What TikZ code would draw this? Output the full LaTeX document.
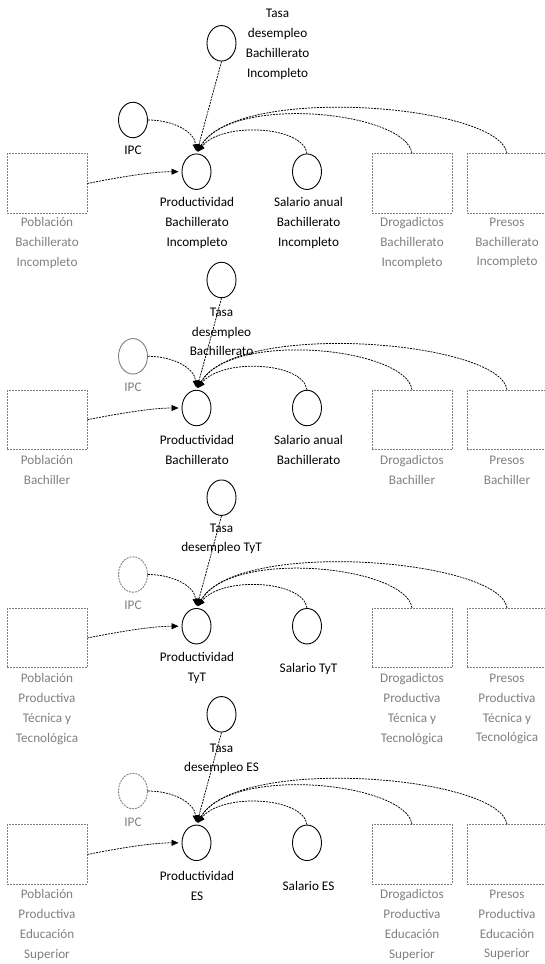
\documentclass[tikz,border=0pt]{standalone}
\usepackage{fontspec}
\setmainfont{Carlito}
\usetikzlibrary{arrows.meta,shapes.geometric}
\definecolor{muted}{HTML}{808080}
\tikzset{
  var/.style={ellipse, draw=black, line width=0.9pt, minimum width=29pt, minimum height=35.5pt, inner sep=0pt},
  auxvar/.style={var, draw=muted},
  auxdash/.style={var, draw=muted, dash pattern=on 2pt off 1pt},
  stock/.style={rectangle, draw=muted, line width=0.7pt, dash pattern=on 2pt off 1pt, minimum width=80pt, minimum height=59.5pt, inner sep=0pt},
  lbl/.style={font=\fontsize{13.2}{19.8}\selectfont, align=center, inner sep=0pt},
  glbl/.style={lbl, text=muted},
  link/.style={draw=black, line width=0.75pt, dash pattern=on 2pt off 1pt, -{Triangle[length=7pt,width=6pt]}},
  totop/.style={shorten >=2.2pt},
}
% Links shared by every sector: population, unemployment, CPI, wage,
% addicts and prisoners all feed the sector's productivity.
\newcommand\sectorlinks[1]{%
  \draw[link, shorten >=3pt] (pob#1.east) .. controls +(30,-6) and +(-30,0) .. (prod#1.west);
  \draw[link, totop] (tasa#1.south) -- (prod#1.north);
  \draw[link, totop] (ipc#1.east) .. controls +(25,0) and +(-2,-22) .. (prod#1.north);
  \draw[link, totop] (sal#1.north) .. controls +(-4,-28) and +(25,-32) .. (prod#1.north);
  \draw[link, totop] (drog#1.north) .. controls +(-6,-42) and +(35,-60) .. (prod#1.north);
  \draw[link, totop] (pres#1.north) .. controls +(-7,-49) and +(40,-70) .. (prod#1.north);
}
\begin{document}
\begin{tikzpicture}[x=1pt, y=-1pt]
\useasboundingbox (0,0) rectangle (544,964);

% ---------- Bachillerato incompleto ----------
\node[var] (tasa1) at (221.5,43.3) {};
\node[lbl] (tasa1l) at (277.6,44.5) {Tasa\\desempleo\\Bachillerato\\Incompleto};
\node[var] (ipc1) at (133,120) {};
\node[lbl] (ipc1l) at (133,150.7) {IPC};
\node[var] (prod1) at (196.5,171.7) {};
\node[lbl] (prod1l) at (197,223) {Productividad\\Bachillerato\\Incompleto};
\node[var] (sal1) at (307,171.7) {};
\node[lbl] (sal1l) at (308.5,223) {Salario anual\\Bachillerato\\Incompleto};
\node[stock] (pob1) at (47,183.5) {};
\node[glbl] (pob1l) at (47,243) {Población\\Bachillerato\\Incompleto};
\node[stock] (drog1) at (412,183.5) {};
\node[glbl] (drog1l) at (412,243) {Drogadictos\\Bachillerato\\Incompleto};
\node[stock] (pres1) at (507,183.5) {};
\node[glbl] (pres1l) at (507,243) {Presos\\Bachillerato\\Incompleto};
\sectorlinks{1}

% ---------- Bachillerato ----------
\node[var] (tasa2) at (221.5,280) {};
\node[lbl] (tasa2l) at (221.5,332) {Tasa\\desempleo\\Bachillerato};
\node[auxvar] (ipc2) at (133,356.3) {};
\node[glbl] (ipc2l) at (133,387.3) {IPC};
\node[var] (prod2) at (196.5,408) {};
\node[lbl] (prod2l) at (197,449.7) {Productividad\\Bachillerato};
\node[var] (sal2) at (307,408) {};
\node[lbl] (sal2l) at (308.5,449.7) {Salario anual\\Bachillerato};
\node[stock] (pob2) at (47,419.75) {};
\node[glbl] (pob2l) at (47,470.3) {Población\\Bachiller};
\node[stock] (drog2) at (412,419.75) {};
\node[glbl] (drog2l) at (412,470.3) {Drogadictos\\Bachiller};
\node[stock] (pres2) at (507,419.75) {};
\node[glbl] (pres2l) at (507,470.3) {Presos\\Bachiller};
\sectorlinks{2}

% ---------- Tecnica y tecnologica ----------
\node[var] (tasa3) at (221.5,497.7) {};
\node[lbl] (tasa3l) at (221.5,538.8) {Tasa\\desempleo TyT};
\node[auxdash] (ipc3) at (133,574.5) {};
\node[glbl] (ipc3l) at (133,605.2) {IPC};
\node[var] (prod3) at (196.5,626.2) {};
\node[lbl] (prod3l) at (197,668) {Productividad\\TyT};
\node[var] (sal3) at (307,626.2) {};
\node[lbl] (sal3l) at (308.5,669.3) {Salario TyT};
\node[stock] (pob3) at (47,638) {};
\node[glbl] (pob3l) at (47,709) {Población\\Productiva\\Técnica y\\Tecnológica};
\node[stock] (drog3) at (412,638) {};
\node[glbl] (drog3l) at (412,709) {Drogadictos\\Productiva\\Técnica y\\Tecnológica};
\node[stock] (pres3) at (507,638) {};
\node[glbl] (pres3l) at (507,709) {Presos\\Productiva\\Técnica y\\Tecnológica};
\sectorlinks{3}

% ---------- Educacion superior ----------
\node[var] (tasa4) at (221.5,714.3) {};
\node[lbl] (tasa4l) at (221.5,758.8) {Tasa\\desempleo ES};
\node[auxdash] (ipc4) at (133,791) {};
\node[glbl] (ipc4l) at (133,822) {IPC};
\node[var] (prod4) at (196.5,842.8) {};
\node[lbl] (prod4l) at (197,886) {Productividad\\ES};
\node[var] (sal4) at (307,842.8) {};
\node[lbl] (sal4l) at (308.5,886) {Salario ES};
\node[stock] (pob4) at (47,854.5) {};
\node[glbl] (pob4l) at (47,925) {Población\\Productiva\\Educación\\Superior};
\node[stock] (drog4) at (412,854.5) {};
\node[glbl] (drog4l) at (412,925) {Drogadictos\\Productiva\\Educación\\Superior};
\node[stock] (pres4) at (507,854.5) {};
\node[glbl] (pres4l) at (507,925) {Presos\\Productiva\\Educación\\Superior};
\sectorlinks{4}
\end{tikzpicture}
\end{document}
